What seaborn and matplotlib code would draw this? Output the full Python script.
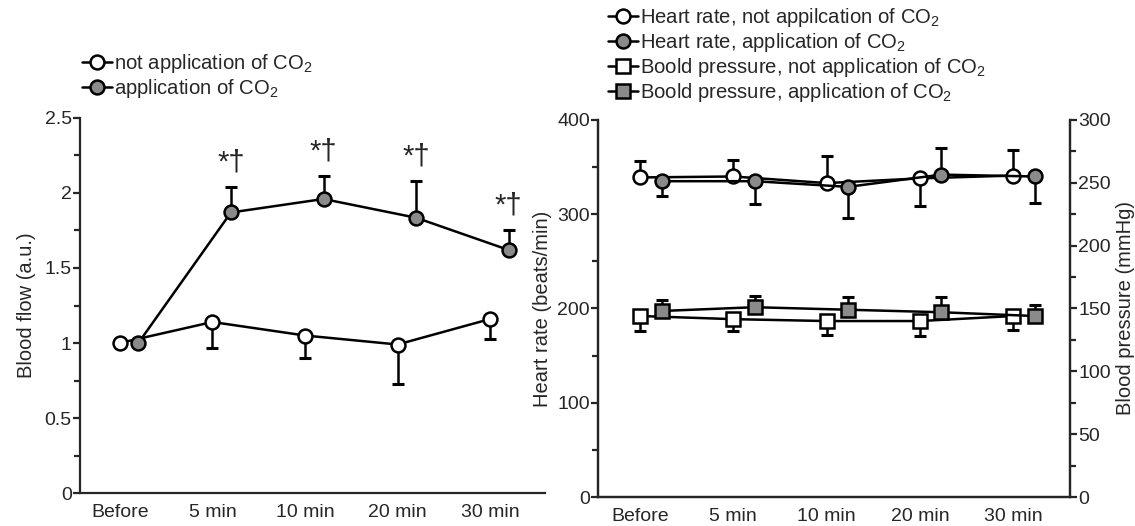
import matplotlib
matplotlib.use("Agg")
import matplotlib.pyplot as plt
import numpy as np
import pandas as pd
import seaborn as sns
from matplotlib.ticker import MultipleLocator, FormatStrFormatter

# categories
times = ["Before", "5 min", "10 min", "20 min", "30 min"]

# blood flow (a.u.)
flow_ctrl = [1.0, 1.14, 1.05, 0.99, 1.16]
flow_ctrl_lo = [0.0, 0.17, 0.15, 0.26, 0.13]
flow_co2 = [1.0, 1.87, 1.96, 1.835, 1.62]
flow_co2_hi = [0.0, 0.17, 0.15, 0.245, 0.13]
flow_marks = ["", "*†", "*†", "*†", "*†"]

# heart rate (beats/min)
hr_ctrl = [339, 340, 333, 338, 341]
hr_ctrl_lo = [0, 0, 0, 29, 0]
hr_ctrl_hi = [17, 18, 29, 0, 27]
hr_co2 = [335, 335, 329, 342, 340]
hr_co2_lo = [16, 24, 33, 0, 28]
hr_co2_hi = [0, 0, 0, 28, 0]

# blood pressure (mmHg)
bp_ctrl = [144, 141.5, 140, 140, 144]
bp_ctrl_lo = [12, 9.5, 11, 12, 11]
bp_co2 = [148, 151, 149, 147, 144]
bp_co2_hi = [9, 9, 10, 12, 8.5]

sns.set_style("ticks")
plt.rcParams["font.family"] = ["Liberation Sans", "DejaVu Sans"]
plt.rcParams["mathtext.default"] = "regular"
plt.rcParams["axes.linewidth"] = 1.6

GREY = "#8a8a8a"
FS = 14
LFS = 14.6

fig = plt.figure(figsize=(11.35, 5.26), dpi=100)
ax1 = fig.add_axes([0.0705, 0.0627, 0.4095, 0.713])
ax2 = fig.add_axes([0.527, 0.0551, 0.4157, 0.7169])
ax3 = ax2.twinx()

x = np.arange(len(times))


def series(ax, xpos, y, lo, hi, marker, face, label):
    df = pd.DataFrame({"x": xpos, "y": y})
    ax.errorbar(xpos, y, yerr=[lo, hi], fmt="none", ecolor="black",
                elinewidth=1.8, capsize=4, capthick=2.2, zorder=2)
    sns.lineplot(data=df, x="x", y="y", ax=ax, color="black", lw=1.8,
                 marker=marker, markersize=10 if marker == "o" else 9.5,
                 markerfacecolor=face, markeredgecolor="black",
                 markeredgewidth=1.8, label=label, zorder=3)


# left panel
series(ax1, x, flow_ctrl, flow_ctrl_lo, np.zeros(5), "o", "white",
       "not application of CO$_2$")
series(ax1, x + 0.2, flow_co2, np.zeros(5), flow_co2_hi, "o", GREY,
       "application of CO$_2$")
for i, m in enumerate(flow_marks):
    if m:
        ax1.text(x[i] + 0.2, flow_co2[i] + flow_co2_hi[i] + 0.07, m,
                 ha="center", va="bottom", fontsize=21)

ax1.set_xlim(-0.43, 4.59)
ax1.set_ylim(0, 2.5)
ax1.yaxis.set_major_locator(MultipleLocator(0.5))
ax1.yaxis.set_minor_locator(MultipleLocator(0.25))
ax1.yaxis.set_major_formatter(FormatStrFormatter("%g"))
ax1.set_ylabel("Blood flow (a.u.)", fontsize=14.5, labelpad=6)
ax1.legend(loc="upper left", bbox_to_anchor=(82 / 1135, 1 - 52 / 526),
           bbox_transform=fig.transFigure, frameon=False, fontsize=LFS,
           handlelength=1.5, handletextpad=0.1, labelspacing=0.12,
           borderpad=0, borderaxespad=0)
sns.despine(ax=ax1)

# right panel
series(ax2, x, hr_ctrl, hr_ctrl_lo, hr_ctrl_hi, "o", "white",
       "Heart rate, not appilcation of CO$_2$")
series(ax2, x + 0.23, hr_co2, hr_co2_lo, hr_co2_hi, "o", GREY,
       "Heart rate, application of CO$_2$")
series(ax3, x, bp_ctrl, bp_ctrl_lo, np.zeros(5), "s", "white",
       "Boold pressure, not application of CO$_2$")
series(ax3, x + 0.23, bp_co2, np.zeros(5), bp_co2_hi, "s", GREY,
       "Boold pressure, application of CO$_2$")

ax2.set_xlim(-0.45, 4.61)
ax2.set_ylim(0, 400)
ax3.set_ylim(0, 300)
ax2.yaxis.set_major_locator(MultipleLocator(100))
ax2.yaxis.set_minor_locator(MultipleLocator(50))
ax3.yaxis.set_major_locator(MultipleLocator(50))
ax3.yaxis.set_minor_locator(MultipleLocator(25))
ax2.set_ylabel("Heart rate (beats/min)", fontsize=14.5, labelpad=4)
ax3.set_ylabel("Blood pressure (mmHg)", fontsize=14.5, labelpad=4)

h2, l2 = ax2.get_legend_handles_labels()
h3, l3 = ax3.get_legend_handles_labels()
ax2.get_legend().remove()
ax3.get_legend().remove()
ax3.legend(h2 + h3, l2 + l3, loc="upper left",
           bbox_to_anchor=(608 / 1135, 1 - 6 / 526),
           bbox_transform=fig.transFigure, frameon=False, fontsize=LFS,
           handlelength=1.5, handletextpad=0.1, labelspacing=0.1,
           borderpad=0, borderaxespad=0)
ax2.spines["top"].set_visible(False)
ax3.spines["top"].set_visible(False)

for ax in (ax1, ax2, ax3):
    ax.set_xlabel("")
    ax.tick_params(axis="y", which="major", length=5, width=1.6, labelsize=FS, pad=1)
    ax.tick_params(axis="y", which="minor", length=4, width=1.6)
for ax in (ax1, ax2):
    ax.set_xticks(x)
    ax.set_xticklabels(times)
    ax.tick_params(axis="x", length=0, labelsize=FS, pad=8)

fig.savefig("out.png", dpi=100)
